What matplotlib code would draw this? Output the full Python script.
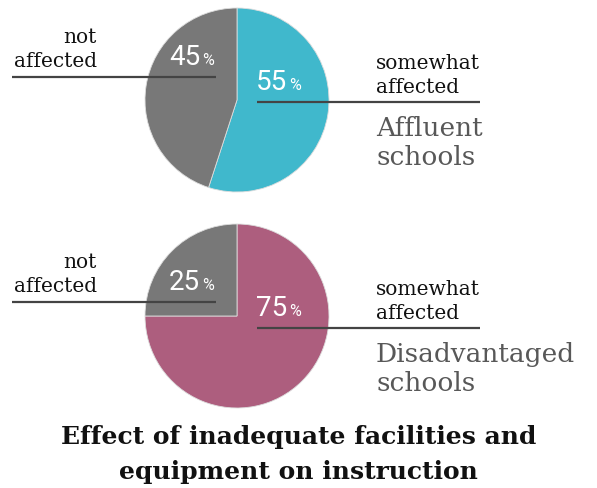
import matplotlib
matplotlib.use("Agg")
import matplotlib.pyplot as plt

# data
groups = [["Affluent", "schools"], ["Disadvantaged", "schools"]]
somewhat_affected = [55, 75]
not_affected = [45, 25]
somewhat_label = ["somewhat", "affected"]
not_label = ["not", "affected"]
title = ["Effect of inadequate facilities and", "equipment on instruction"]

colors = [["#40B8CC", "#787878"], ["#AD5E7E", "#787878"]]

W, H = 597, 488
fig = plt.figure(figsize=(W / 100, H / 100), dpi=100)
ax = fig.add_axes([0, 0, 1, 1])

serif = "DejaVu Serif"
cx, r = 237, 92
centers_y = [100, 316]
left_line_y = [77, 302]
right_line_y = [102, 328]


def txt(x, y, s, **kw):
    # y given in pixels from the top
    ax.text(x, H - y, s, va="baseline", **kw)


for i in range(2):
    cy = H - centers_y[i]
    ax.pie([somewhat_affected[i], not_affected[i]], colors=colors[i],
           startangle=90, counterclock=False, center=(cx, cy), radius=r,
           wedgeprops=dict(linewidth=0.6, edgecolor="#dddddd"))

    # left label + line
    ly = left_line_y[i]
    ax.plot([12, 216], [H - ly, H - ly], color="#444444", lw=1.6,
            solid_capstyle="butt", zorder=5)
    txt(97, ly - 34, not_label[0], ha="right", fontsize=14.5, family=serif, color="#111111")
    txt(97, ly - 10, not_label[1], ha="right", fontsize=14.5, family=serif, color="#111111")
    txt(169, ly - 12, f"{not_affected[i]}", ha="left", fontsize=20,
        family="Roboto", color="white", zorder=6)
    txt(202, ly - 12, "%", ha="left", fontsize=11.5,
        family="Roboto", color="white", zorder=6)

    # right label + line
    ry = right_line_y[i]
    ax.plot([257, 480], [H - ry, H - ry], color="#444444", lw=1.6,
            solid_capstyle="butt", zorder=5)
    txt(256, ry - 12, f"{somewhat_affected[i]}", ha="left", fontsize=20,
        family="Roboto", color="white", zorder=6)
    txt(289, ry - 12, "%", ha="left", fontsize=11.5,
        family="Roboto", color="white", zorder=6)
    txt(376, ry - 33, somewhat_label[0], ha="left", fontsize=14.5, family=serif, color="#111111")
    txt(376, ry - 9, somewhat_label[1], ha="left", fontsize=14.5, family=serif, color="#111111")
    txt(376, ry + 34, groups[i][0], ha="left", fontsize=19, family=serif, color="#585858")
    txt(376, ry + 63, groups[i][1], ha="left", fontsize=19, family=serif, color="#585858")

txt(W / 2, 444, title[0], ha="center", fontsize=18, family=serif,
    fontweight="bold", color="#111111")
txt(W / 2, 479, title[1], ha="center", fontsize=18, family=serif,
    fontweight="bold", color="#111111")

# pie() changes limits, so set them at the end
ax.set_xlim(0, W)
ax.set_ylim(0, H)
ax.set_aspect("equal")
ax.axis("off")

fig.savefig("out.png", dpi=100)
